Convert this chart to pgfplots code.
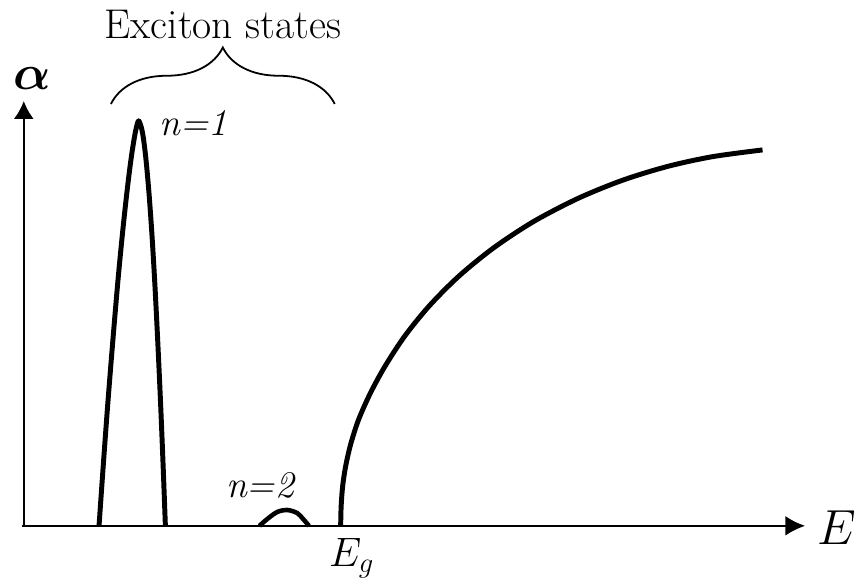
\documentclass[border=0pt]{standalone}
\usepackage{pgfplots}
\pgfplotsset{compat=1.18}
\usepackage{amsmath}
\usetikzlibrary{arrows.meta,decorations.pathreplacing}
\begin{document}
\begin{tikzpicture}
\begin{axis}[
  width=428pt, height=296pt, scale only axis,
  xmin=-24, xmax=832, ymin=-61, ymax=531,
  axis lines=none, clip=false,
]
\path (axis cs:-24,-61) rectangle (axis cs:832,531);
% axes
\draw[line width=1pt,-{Latex[length=10pt,width=10pt]}] (axis cs:-2,0) -- (axis cs:789,0);
\draw[line width=1pt,-{Latex[length=9pt,width=10pt]}] (axis cs:0,0) -- (axis cs:0,429);
% n=1 exciton peak
\addplot[line width=2.5pt, smooth, line join=round] coordinates {
(76,0) (80.3,61.35) (84.8,122.7) (89.7,184.05) (94.9,245.4) (99.6,294.5) (104,335.4)
(108,368.1) (111.1,388.6) (113.4,400.8) (116,409)
(119.1,400.8) (121.2,388.6) (123.6,368.1) (126.5,335.4) (129.4,294.5) (132.3,245.4)
(135.4,184.05) (138.2,122.7) (140.7,61.35) (143,0)
};
% n=2 exciton peak
\addplot[line width=2.3pt, smooth] coordinates {
(238,0) (246,7) (256,14) (266,16) (276,13) (282,7) (288,0)
};
% band-to-band absorption
\addplot[line width=2.5pt, smooth] coordinates {
(320,0) (320.5,20) (322,40) (325,60) (330,82) (338,107) (350,134) (365,161.5)
(385,192) (410,222.7) (440,252.7) (475,281.1) (515,307.4) (560,330.8) (605,349.1)
(650,362.9) (695,372.7) (746,379.6)
};
% brace
\draw[line width=0.9pt, decorate, decoration={brace, amplitude=28.5pt}] (axis cs:88,426) -- (axis cs:314,426);
% labels
\node[font=\fontsize{21}{24}\selectfont, anchor=center] at (axis cs:201,506) {Exciton states};
\node[font=\fontsize{19}{22}\selectfont\itshape, anchor=base west, inner sep=0pt] at (axis cs:137,394) {n=1};
\node[font=\fontsize{19}{22}\selectfont\itshape, anchor=base west, inner sep=0pt] at (axis cs:204,29) {n=2};
\node[font=\fontsize{21}{24}\selectfont, anchor=base west, inner sep=0pt] at (axis cs:308,-41) {$E_g$};
\node[font=\fontsize{24}{28}\selectfont, anchor=base west, inner sep=0pt] at (axis cs:801,-19) {$E$};
\node[font=\fontsize{24}{28}\selectfont, anchor=base west, inner sep=0pt] at (axis cs:-11,441) {$\boldsymbol{\alpha}$};
\end{axis}
\end{tikzpicture}
\end{document}
